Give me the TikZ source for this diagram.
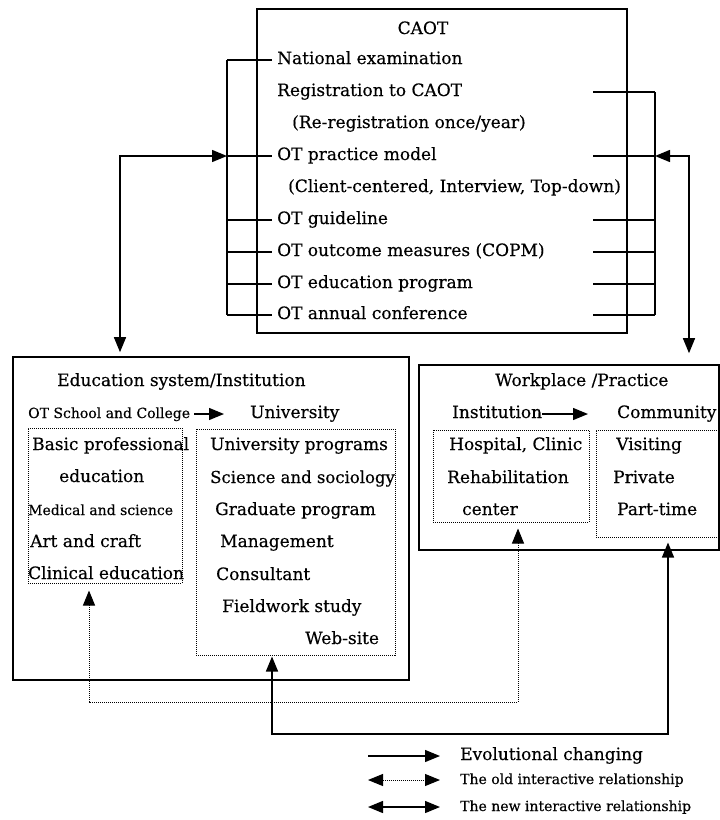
\documentclass[tikz,border=0pt]{standalone}
\usepackage{fontspec}
\setmainfont{DejaVu Serif}[FakeBold=0.35]
\usetikzlibrary{arrows.meta,positioning,calc}
\tikzset{
  ot/box/.style={
    draw=black,
    line width=1.6pt,
    inner sep=0pt
  },
  ot/dotbox/.style={
    draw=black,
    line width=1pt,
    densely dotted,
    inner sep=0pt
  },
  ot/txt/.style={
    font=\fontsize{17}{20}\selectfont,
    inner sep=0pt,
    text height=12pt,
    text depth=4pt,
    anchor=west
  },
  ot/small/.style={ot/txt, font=\fontsize{14}{17}\selectfont},
  ot/item/.style={ot/txt, inner xsep=5pt},
  ot/tick/.style={line width=1.3pt},
  ot/evo/.style={-{Triangle[length=15pt,width=12pt]}, line width=1.3pt},
  ot/newrel/.style={{Triangle[length=15pt,width=12pt]}-{Triangle[length=15pt,width=12pt]}, line width=1.4pt},
  ot/oldrel/.style={{Triangle[length=15pt,width=12pt]}-{Triangle[length=15pt,width=12pt]}, line width=1pt, densely dotted}
}

\begin{document}
\begin{tikzpicture}[x=1pt,y=-1pt]
  \useasboundingbox (0,0) rectangle (720,820);

  % CAOT
  \node[ot/box,minimum width=370,minimum height=324] (caot) at (442,171) {};
  \node[ot/txt,anchor=center] (caottitle) at (423,30) {CAOT};
  \node[ot/item] (n1) at (272,60) {National examination};
  \node[ot/item] (n2) at (272,92) {Registration to CAOT};
  \node[ot/txt] (n2b) at (292,124) {(Re-registration once/year)};
  \node[ot/item] (n3) at (272,156) {OT practice model};
  \node[ot/txt] (n3b) at (288,188) {(Client-centered, Interview, Top-down)};
  \node[ot/item] (n4) at (272,220) {OT guideline};
  \node[ot/item] (n5) at (272,252) {OT outcome measures (COPM)};
  \node[ot/item] (n6) at (272,284) {OT education program};
  \node[ot/item] (n7) at (272,315) {OT annual conference};

  \coordinate (lbar) at (227,0);
  \coordinate (rbar) at (655,0);
  \coordinate (rtick) at (593,0);
  \draw[ot/tick] (lbar |- n1.west) -- (lbar |- n7.west);
  \foreach \n in {n1,n3,n4,n5,n6,n7}
    \draw[ot/tick] (lbar |- \n.west) -- (\n.west);
  \draw[ot/tick] (rbar |- n2.west) -- (rbar |- n7.west);
  \foreach \n in {n2,n3,n4,n5,n6,n7}
    \draw[ot/tick] (rtick |- \n.west) -- (rbar |- \n.west);

  % Education
  \node[ot/box,minimum width=396,minimum height=323] (edu) at (211,518.5) {};
  \node[ot/txt] (edutitle) at (57,382) {Education system/Institution};
  \node[ot/small] (school) at (28,414) {OT School and College};
  \node[ot/txt] (univ) at (250,414) {University};
  \draw[ot/evo] ([xshift=4pt]school.east) -- ([xshift=-26pt]univ.west);

  \node[ot/dotbox,minimum width=154,minimum height=155] (basic) at (105,505.5) {};
  \node[ot/txt] (b1) at (32,446) {Basic professional};
  \node[ot/txt] (b2) at (59,478) {education};
  \node[ot/small] (b3) at (28,511) {Medical and science};
  \node[ot/txt] (b4) at (30,543) {Art and craft};
  \node[ot/txt] (b5) at (28,575) {Clinical education};

  \node[ot/dotbox,minimum width=199,minimum height=226] (uni) at (295.5,542) {};
  \node[ot/txt] (u1) at (210,446) {University programs};
  \node[ot/txt,font=\fontsize{16.5}{19}\selectfont] (u2) at (210,479) {Science and sociology};
  \node[ot/txt] (u3) at (215,511) {Graduate program};
  \node[ot/txt] (u4) at (220,543) {Management};
  \node[ot/txt] (u5) at (216,576) {Consultant};
  \node[ot/txt] (u6) at (222,608) {Fieldwork study};
  \node[ot/txt] (u7) at (305,640) {Web-site};

  % Workplace
  \node[ot/box,minimum width=300,minimum height=185] (work) at (569,457.5) {};
  \node[ot/txt] (worktitle) at (495,382) {Workplace /Practice};
  \node[ot/txt] (instit) at (452,414) {Institution};
  \node[ot/txt] (commu) at (617,414) {Community};
  \draw[ot/evo] (instit.east) -- ([xshift=-29pt]commu.west);

  \node[ot/dotbox,minimum width=156,minimum height=92] (inst) at (511,476) {};
  \node[ot/txt] (i1) at (449,446) {Hospital, Clinic};
  \node[ot/txt] (i2) at (447,479) {Rehabilitation};
  \node[ot/txt] (i3) at (462,511) {center};

  \node[ot/dotbox,minimum width=122,minimum height=107] (comm) at (657,483.5) {};
  \node[ot/txt] (c1) at (616,446) {Visiting};
  \node[ot/txt] (c2) at (613,479) {Private};
  \node[ot/txt] (c3) at (617,511) {Part-time};

  % relationships
  \coordinate (eduin) at (120,0);
  \coordinate (workin) at (689,0);
  \draw[ot/newrel,shorten >=4pt] (lbar |- n3.west) -| (eduin |- edu.north);
  \draw[ot/newrel,shorten >=11pt] (rbar |- n3.west) -| (workin |- work.north);

  \coordinate (oldL) at (89,0);
  \coordinate (oldR) at (518,0);
  \coordinate (oldlow) at (0,702);
  \draw[ot/oldrel,shorten <=7pt,shorten >=6pt] (oldL |- basic.south) -- (oldL |- oldlow) -- (oldR |- oldlow) -- (oldR |- inst.south);

  \coordinate (newL) at (272,0);
  \coordinate (newR) at (668,0);
  \coordinate (newlow) at (0,734);
  \draw[ot/newrel,shorten <=1pt,shorten >=5pt] (newL |- uni.south) -- (newL |- newlow) -- (newR |- newlow) -- (newR |- comm.south);

  % legend
  \node[ot/txt] (legevo) at (460,756) {Evolutional changing};
  \node[ot/small] (legold) at (460,780) {The old interactive relationship};
  \node[ot/small] (legnew) at (460,807) {The new interactive relationship};
  \draw[ot/evo] ([xshift=-92pt]legevo.west) -- ([xshift=-20pt]legevo.west);
  \draw[ot/oldrel] ([xshift=-92pt]legold.west) -- ([xshift=-20pt]legold.west);
  \draw[ot/newrel] ([xshift=-92pt]legnew.west) -- ([xshift=-20pt]legnew.west);
\end{tikzpicture}
\end{document}
